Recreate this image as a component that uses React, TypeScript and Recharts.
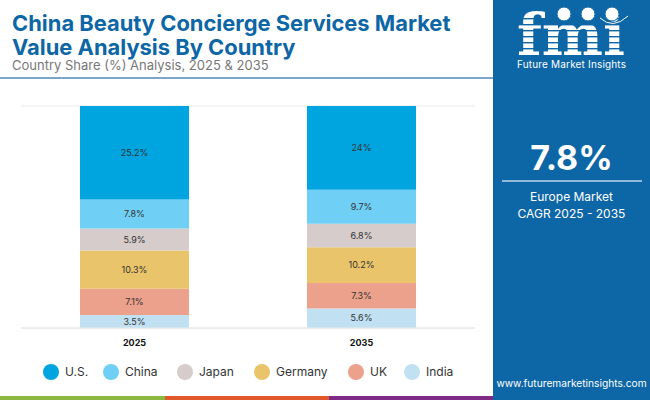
import React from 'react';
import { BarChart, Bar, XAxis, YAxis, CartesianGrid, LabelList, Legend } from 'recharts';

const years = ['2025', '2035'];
const usShare = [25.2, 24];
const chinaShare = [7.8, 9.7];
const japanShare = [5.9, 6.8];
const germanyShare = [10.3, 10.2];
const ukShare = [7.1, 7.3];
const indiaShare = [3.5, 5.6];

// bottom of the stack first
const series = [
  { name: 'India', values: indiaShare, color: '#c1e1f3' },
  { name: 'UK', values: ukShare, color: '#eca18c' },
  { name: 'Germany', values: germanyShare, color: '#e9c46a' },
  { name: 'Japan', values: japanShare, color: '#d6cccc' },
  { name: 'China', values: chinaShare, color: '#6fcff5' },
  { name: 'U.S.', values: usShare, color: '#00a5df' },
];

const data = years.map((year, i) => {
  const row: Record<string, string | number> = { year };
  series.forEach((s) => {
    row[s.name] = s.values[i];
  });
  return row;
});

const FONT = 'Inter, "Open Sans", sans-serif';
const BLUE = '#0d66a5';

const LegendRow = ({ payload }: any) => (
  <div style={{ position: 'relative', height: 18, fontFamily: FONT, fontSize: 12, color: '#333' }}>
    {[...(payload || [])].reverse().map((p: any, i: number) => (
      <div
        key={p.value}
        style={{
          position: 'absolute',
          left: [43, 103, 177, 254, 348, 404][i],
          top: 0,
          display: 'flex',
          alignItems: 'center',
          height: 17,
        }}
      >
        <span style={{ width: 16, height: 16, borderRadius: 8, background: p.color, marginRight: 6 }} />
        {p.value}
      </div>
    ))}
  </div>
);

const Logo = () => (
  <svg width={157} height={75} style={{ position: 'absolute', left: 493, top: 0 }}>
    <text x={24} y={55} fontFamily="'DejaVu Serif', serif" fontWeight={700} fontSize={58} fill="#fff" textLength={108} lengthAdjust="spacingAndGlyphs">
      fmi
    </text>
    {[18, 24, 30, 36, 42, 48].map((y) => (
      <rect key={y} x={20} y={y} width={116} height={1.4} fill={BLUE} />
    ))}
    {[71, 95, 119].map((x) => (
      <circle key={x} cx={x} cy={14} r={7} fill="#fff" stroke={BLUE} strokeWidth={1} />
    ))}
    <path d="M107 18 Q120 30 135 16" fill="none" stroke="#fff" strokeWidth={1} />
    <text x={24} y={68} fontFamily={FONT} fontSize={10} fill="#fff" textLength={109}>
      Future Market Insights
    </text>
  </svg>
);

export default function App() {
  return (
    <div style={{ position: 'absolute', left: 0, top: 0, width: 650, height: 400, background: '#fff', overflow: 'hidden', fontFamily: FONT }}>
      <BarChart
        width={493}
        height={396}
        data={data}
        stackOffset="expand"
        barSize={109}
        margin={{ top: 106, right: 18, bottom: 38, left: 21 }}
      >
        <CartesianGrid vertical={false} horizontalValues={[0, 1]} stroke="#e8e8e8" />
        <XAxis
          dataKey="year"
          axisLine={{ stroke: '#e8e8e8' }}
          tickLine={false}
          tickMargin={6}
          tick={{ fontSize: 9, fontWeight: 700, fill: '#111', fontFamily: FONT }}
        />
        <YAxis hide domain={[0, 1]} />
        <Legend
          verticalAlign="middle"
          itemSorter={null}
          content={<LegendRow />}
          wrapperStyle={{ top: 363, left: 0, width: 493 }}
        />
        {series.map((s) => (
          <Bar key={s.name} dataKey={s.name} stackId="share" fill={s.color} isAnimationActive={false}>
            <LabelList
              dataKey={s.name}
              position="center"
              formatter={(v: any) => `${v}%`}
              style={{ fontSize: 9, fill: '#333', fontFamily: FONT }}
            />
          </Bar>
        ))}
      </BarChart>

      <div style={{ position: 'absolute', left: 12, top: 11, color: BLUE, fontWeight: 700, fontSize: 21.9, lineHeight: '24px', whiteSpace: 'nowrap' }}>
        China Beauty Concierge Services Market
        <br />
        Value Analysis By Country
      </div>
      <div style={{ position: 'absolute', left: 12, top: 58, color: '#777', fontSize: 13, lineHeight: '15px', whiteSpace: 'nowrap' }}>
        Country Share (%) Analysis, 2025 &amp; 2035
      </div>
      <div style={{ position: 'absolute', left: 0, top: 77, width: 493, height: 2, background: '#7ba6c9' }} />

      <div style={{ position: 'absolute', left: 493, top: 0, width: 157, height: 400, background: BLUE }} />
      <Logo />
      <div style={{ position: 'absolute', left: 493, top: 137, width: 157, textAlign: 'center', color: '#fff', fontWeight: 700, fontSize: 34, lineHeight: '42px' }}>
        7.8%
      </div>
      <div style={{ position: 'absolute', left: 502, top: 180, width: 140, height: 2, background: '#8fb8da' }} />
      <div style={{ position: 'absolute', left: 493, top: 188, width: 157, textAlign: 'center', color: '#fff', fontSize: 12, lineHeight: '17px' }}>
        Europe Market
        <br />
        CAGR 2025 - 2035
      </div>
      <div style={{ position: 'absolute', left: 493, top: 376, width: 157, textAlign: 'center', color: '#fff', fontSize: 10.2, lineHeight: '14px', whiteSpace: 'nowrap' }}>
        www.futuremarketinsights.com
      </div>

      <div style={{ position: 'absolute', left: 0, top: 396, width: 165, height: 4, background: '#8cb83f' }} />
      <div style={{ position: 'absolute', left: 165, top: 396, width: 164, height: 4, background: '#e0592a' }} />
      <div style={{ position: 'absolute', left: 329, top: 396, width: 164, height: 4, background: '#7f2a84' }} />
    </div>
  );
}
